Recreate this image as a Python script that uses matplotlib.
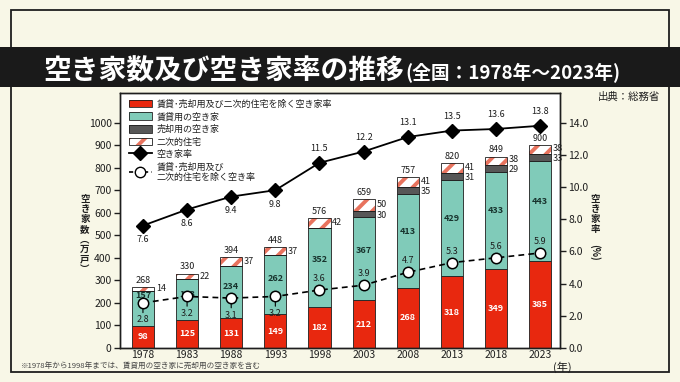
import numpy as np
import matplotlib
matplotlib.use("Agg")
import matplotlib.pyplot as plt
from matplotlib.patches import Patch, Rectangle
from matplotlib.lines import Line2D
from matplotlib.legend_handler import HandlerTuple

plt.rcParams['font.family'] = ['Noto Sans CJK JP', 'DejaVu Sans']
plt.rcParams['hatch.linewidth'] = 2.8

######## DATA
years = ['1978', '1983', '1988', '1993', '1998', '2003', '2008', '2013', '2018', '2023']
other = [98, 125, 131, 149, 182, 212, 268, 318, 349, 385]        # 賃貸・売却用及び二次的住宅を除く
rental = [157, 183, 234, 262, 352, 367, 413, 429, 433, 443]      # 賃貸用
sale = [0, 0, 0, 0, 0, 30, 35, 31, 29, 33]                       # 売却用
second = [14, 22, 37, 37, 42, 50, 41, 41, 38, 38]                # 二次的住宅
totals = [268, 330, 394, 448, 576, 659, 757, 820, 849, 900]
rate = [7.6, 8.6, 9.4, 9.8, 11.5, 12.2, 13.1, 13.5, 13.6, 13.8]
rate_other = [2.8, 3.2, 3.1, 3.2, 3.6, 3.9, 4.7, 5.3, 5.6, 5.9]

######## STYLE
cream = '#f8f7e7'
red = '#e8280f'
teal = '#80cbb9'
gray = '#575757'
stripe = '#e8735e'
dark = '#1e1e1e'

fig = plt.figure(figsize=(6.8, 3.82), dpi=100, facecolor=cream)

# frame + title band
fig.patches.append(Rectangle((11/680, 1-372/382), 658/680, 362/382, transform=fig.transFigure,
                             fill=False, edgecolor=dark, lw=1.3, zorder=0))
fig.patches.append(Rectangle((0, 1-87/382), 1, 40/382, transform=fig.transFigure,
                             facecolor='#1a1a1a', edgecolor='none', zorder=1))
fig.text(43/680, 1-79/382, '空き家数及び空き家率の推移', color='white', fontsize=20,
         fontweight='bold', va='baseline', ha='left')
fig.text(405/680, 1-79/382, '(全国：1978年～2023年)', color='white', fontsize=13.5,
         fontweight='bold', va='baseline', ha='left')

ax = fig.add_axes([120/680, 1-348/382, 440/680, 255/382])
ax.set_facecolor('white')
x = np.arange(len(years))
w = 0.5

other = np.array(other); rental = np.array(rental); sale = np.array(sale); second = np.array(second)
b1 = other
b2 = b1 + rental
b3 = b2 + sale
ax.bar(x, other, w, color=red, edgecolor=dark, lw=0.6, zorder=2)
ax.bar(x, rental, w, bottom=b1, color=teal, edgecolor=dark, lw=0.6, zorder=2)
ax.bar(x, sale, w, bottom=b2, color=gray, edgecolor=dark, lw=0.6, zorder=2)
ax.bar(x, second, w, bottom=b3, color='white', edgecolor=stripe, hatch='//', lw=0, zorder=2)
ax.bar(x, second, w, bottom=b3, fill=False, edgecolor=dark, lw=0.6, zorder=2)

ax.set_xlim(-0.52, 9.45)
ax.set_ylim(0, 1131)
ax.set_yticks(range(0, 1001, 100))
ax.set_xticks(x)
ax.set_xticklabels(years)
ax.tick_params(axis='y', direction='out', length=4, width=1, labelsize=7.5, colors=dark, pad=2)
ax.tick_params(axis='x', length=0, labelsize=7.5, colors=dark, pad=1.5)
for s in ax.spines.values():
    s.set_color(dark); s.set_linewidth(1)

# bar labels
teal_pos = [0.85, 0.62, 0.6, 0.6, 0.6, 0.6, 0.6, 0.6, 0.6, 0.6]
for i in range(len(years)):
    ax.text(x[i], other[i]/2, str(other[i]), ha='center', va='center', color='white',
            fontsize=6.5, fontweight='bold', zorder=3)
    ax.text(x[i], b1[i] + rental[i]*teal_pos[i], str(rental[i]), ha='center', va='center',
            color='#17332d', fontsize=6.5, fontweight='bold', zorder=3)
    top = b3[i] + second[i]
    ax.text(x[i], top + 10, str(totals[i]), ha='center', va='bottom', color=dark, fontsize=6.5, zorder=3)
    if sale[i] > 0:
        ax.text(x[i] + w/2 + 0.04, b3[i] + second[i]/2 + 4, str(second[i]), ha='left', va='center',
                color=dark, fontsize=6.5, zorder=3)
        ax.text(x[i] + w/2 + 0.04, b2[i] + sale[i]/2 - 6, str(sale[i]), ha='left', va='center',
                color=dark, fontsize=6.5, zorder=3)
    else:
        ax.text(x[i] + w/2 + 0.04, b3[i] + second[i]/2, str(second[i]), ha='left', va='center',
                color=dark, fontsize=6.5, zorder=3)

# rates
ax2 = ax.twinx()
ax2.set_ylim(0, 1131*14/1000)
ax2.set_yticks(np.arange(0, 14.1, 2))
ax2.set_yticklabels(['%.1f' % v for v in np.arange(0, 14.1, 2)])
ax2.tick_params(axis='y', direction='out', length=4, width=1, labelsize=7.5, colors=dark, pad=2)
for s in ax2.spines.values():
    s.set_color(dark); s.set_linewidth(1)

ax2.plot(x, rate, color='black', lw=1.3, marker='D', ms=7, mfc='black', mec='black', zorder=4)
ax2.plot(x, rate_other, color='black', lw=1.2, ls=(0, (3.5, 2.5)), marker='o', ms=7.5,
         mfc='white', mec='black', mew=1.1, zorder=4)

for i in range(len(years)):
    if i < 4:
        ax2.annotate(str(rate[i]), (x[i], rate[i]), xytext=(0, -7), textcoords='offset points',
                     ha='center', va='top', fontsize=6.5, color=dark)
        ax2.annotate(str(rate_other[i]), (x[i], rate_other[i]), xytext=(0, -9), textcoords='offset points',
                     ha='center', va='top', fontsize=6.5, color=dark, zorder=3,
                     arrowprops=dict(arrowstyle='-', color='black', lw=0.8, shrinkA=0, shrinkB=2))
    else:
        ax2.annotate(str(rate[i]), (x[i], rate[i]), xytext=(0, 7), textcoords='offset points',
                     ha='center', va='bottom', fontsize=6.5, color=dark)
        ax2.annotate(str(rate_other[i]), (x[i], rate_other[i]), xytext=(0, 5), textcoords='offset points',
                     ha='center', va='bottom', fontsize=6.5, color=dark)

# legend
outline = Patch(fill=False, edgecolor=dark, lw=0.6)
handles = [
    (Patch(facecolor=red, edgecolor='none'), outline),
    (Patch(facecolor=teal, edgecolor='none'), outline),
    (Patch(facecolor=gray, edgecolor='none'), outline),
    (Patch(facecolor='white', edgecolor=stripe, hatch='//', lw=0), outline),
    Line2D([], [], color='black', lw=1.3, marker='D', ms=7),
    Line2D([], [], color='black', lw=1.2, ls=(0, (2.5, 2)), marker='o', ms=7.5, mfc='white', mec='black'),
]
labels = ['賃貸･売却用及び二次的住宅を除く空き家率', '賃貸用の空き家', '売却用の空き家', '二次的住宅',
          '空き家率', '賃貸･売却用及び\n二次的住宅を除く空き率']
leg = ax2.legend(handles, labels, loc='upper left', bbox_to_anchor=(0.005, 1.0), frameon=False,
                 fontsize=6.5, handlelength=2.6, handleheight=0.9, labelspacing=0.38,
                 handletextpad=0.5, borderaxespad=0.3,
                 handler_map={tuple: HandlerTuple(ndivide=1, pad=0)})
for t in leg.get_texts():
    t.set_color(dark)

# axis labels and notes
fig.text(85/680, 1-234/382, '\n'.join('空き家数︵万戸︶'), fontsize=6.8, ha='center', va='center',
         color=dark, linespacing=1.0, fontweight='bold')
fig.text(595/680, 1-214/382, '\n'.join('空き家率'), fontsize=6.8, ha='center', va='center',
         color=dark, linespacing=1.0, fontweight='bold')
fig.text(595/680, 1-252/382, '(%)', fontsize=7, ha='center', va='center', rotation=270,
         color=dark, fontweight='bold')
fig.text(660/680, 1-97/382, '出典：総務省', fontsize=7.5, ha='right', va='center', color=dark)
fig.text(562/680, 1-367/382, '(年)', fontsize=8, ha='center', va='center', color=dark)
fig.text(21/680, 1-366/382, '※1978年から1998年までは、賃貸用の空き家に売却用の空き家を含む',
         fontsize=5.5, ha='left', va='center', color='#444444')

fig.savefig('out.png', dpi=100, facecolor=cream)
